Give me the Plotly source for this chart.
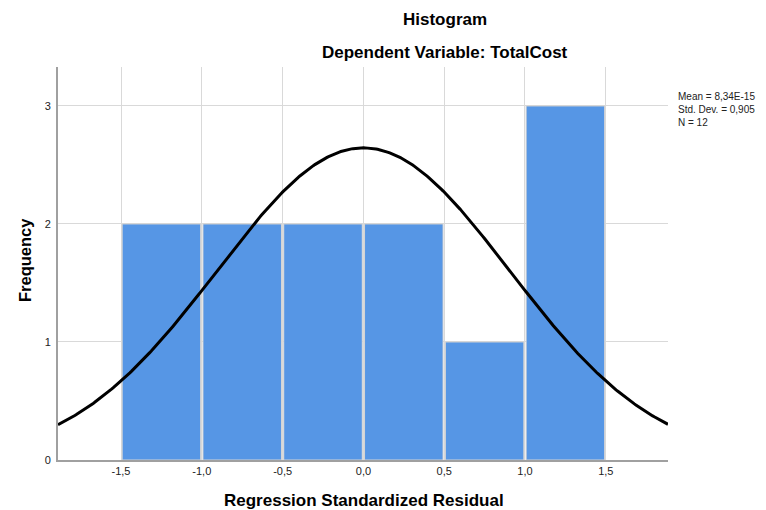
import numpy as np
import plotly.graph_objects as go

# Histogram bins of standardized residuals
bin_centers = [-1.25, -0.75, -0.25, 0.25, 0.75, 1.25]
counts = [2, 2, 2, 2, 1, 3]
bin_width = 0.5

mean_val = 8.34e-15
std_val = 0.905
n_obs = 12

x_ticks = [-1.5, -1.0, -0.5, 0.0, 0.5, 1.0, 1.5]
x_tick_text = ["-1,5", "-1,0", "-0,5", "0,0", "0,5", "1,0", "1,5"]
y_ticks = [0, 1, 2, 3]

x_range = [-1.89, 1.885]
y_range = [0, 3.33]

# Normal curve scaled to the histogram's counts
xs = np.linspace(x_range[0], x_range[1], 400)
ys = n_obs * bin_width * np.exp(-0.5 * ((xs - mean_val) / std_val) ** 2) / (std_val * np.sqrt(2 * np.pi))

font = "Liberation Sans, Arial, sans-serif"

# plot area in pixels
L, R, T, B = 58, 668, 67, 460
W, H = 766, 510


def px(x):
    return (x - L) / (R - L)


def py(y):
    return (B - y) / (B - T)


fig = go.Figure()
fig.add_trace(go.Bar(
    x=bin_centers, y=counts, width=bin_width - 0.014,
    marker=dict(color="#5696e5", line=dict(color="#d4d4d4", width=1)),
    hoverinfo="skip",
))
fig.add_trace(go.Scatter(
    x=xs, y=ys, mode="lines",
    line=dict(color="black", width=3), hoverinfo="skip",
))

fig.update_layout(
    width=W, height=H,
    margin=dict(l=L, r=W - R, t=T, b=H - B),
    paper_bgcolor="white", plot_bgcolor="white",
    showlegend=False,
    font=dict(family=font, color="black"),
    xaxis=dict(
        range=x_range, tickvals=x_ticks, ticktext=x_tick_text,
        tickfont=dict(size=11, color="#222"),
        showgrid=True, gridcolor="#d9d9d9", gridwidth=1,
        showline=True, linecolor="#a0a0a0", linewidth=2,
        zeroline=False, ticks="", automargin=False,
    ),
    yaxis=dict(
        range=y_range, tickvals=y_ticks,
        tickfont=dict(size=11, color="#222"),
        showgrid=True, gridcolor="#d9d9d9", gridwidth=1,
        showline=True, linecolor="#a0a0a0", linewidth=2,
        zeroline=False, ticks="outside", ticklen=3, tickcolor="rgba(0,0,0,0)",
        automargin=False,
    ),
)

titles = [
    ("<b>Histogram</b>", 445, 20),
    ("<b>Dependent Variable: TotalCost</b>", 445, 52),
    ("<b>Regression Standardized Residual</b>", 364, 500),
]
for text, tx, ty in titles:
    fig.add_annotation(text=text, xref="paper", yref="paper", x=px(tx), y=py(ty),
                       showarrow=False, font=dict(size=17, family=font),
                       xanchor="center", yanchor="middle")

fig.add_annotation(text="<b>Frequency</b>", xref="paper", yref="paper", x=px(25), y=py(260),
                   showarrow=False, textangle=-90, font=dict(size=16.5, family=font),
                   xanchor="center", yanchor="middle")

stats_text = ("Mean = 8,34E-15<br>Std. Dev. = " + f"{std_val:.3f}".replace(".", ",")
              + f"<br>N = {n_obs}")
fig.add_annotation(text=stats_text, xref="paper", yref="paper",
                   x=px(676), y=py(89), showarrow=False,
                   align="left", xanchor="left", yanchor="top",
                   font=dict(size=10, family=font, color="#222"))

fig.write_html("out.html")
